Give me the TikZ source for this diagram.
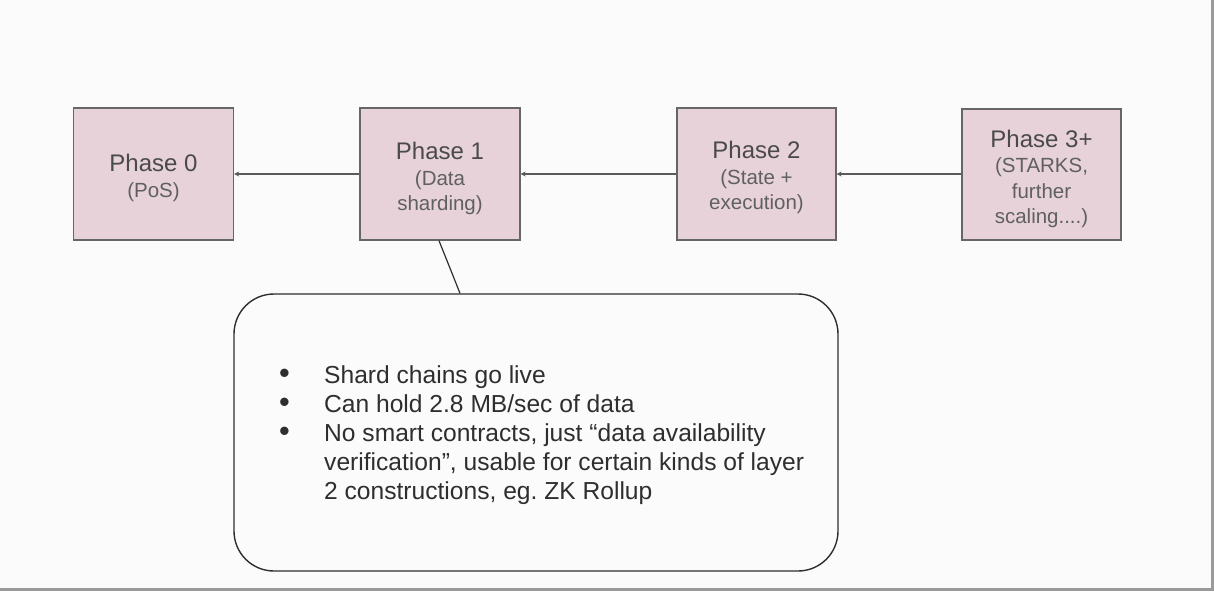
\documentclass[tikz,border=0pt]{standalone}
\usepackage{fontspec}
\setmainfont{Liberation Sans}
\usetikzlibrary{arrows.meta}
\frenchspacing
\definecolor{bgc}{HTML}{FBFBFB}
\definecolor{phasefill}{HTML}{E7D2DA}
\definecolor{phaseline}{HTML}{666666}
\definecolor{titlec}{HTML}{4A4A4A}
\definecolor{subc}{HTML}{606060}
\definecolor{arrowc}{HTML}{5A5A5A}
\definecolor{callc}{HTML}{2E2E2E}
\definecolor{framec}{HTML}{9A9A9A}
\tikzset{
  phasebox/.style={draw=phaseline, line width=1.3pt, fill=phasefill,
    minimum width=160pt, minimum height=132pt, inner sep=0pt},
  phasetext/.style={inner sep=0pt, align=center,
    text=subc, font=\fontsize{20.5}{25.5}\selectfont},
  flow/.style={draw=arrowc, line width=1.2pt, -{Stealth[length=5pt,width=5pt]}},
  callbox/.style={draw=callc, line width=1.4pt, rounded corners=40pt,
    minimum width=604pt, minimum height=277pt, inner sep=0pt},
  calltext/.style={text=callc, align=left, inner sep=0pt,
    font=\fontsize{24.6}{28.8}\selectfont}
}
\newcommand{\ttl}[1]{{\fontsize{24}{25.5}\selectfont\color{titlec}#1}}
\newcommand{\blt}{\makebox[44pt][l]{\hspace*{-1pt}\scalebox{1.25}{\textbullet}}}
\begin{document}
\begin{tikzpicture}[x=1pt,y=-1pt]
\useasboundingbox (0,0) rectangle (1214,591);
\fill[bgc] (0,0) rectangle (1214,591);
\draw[framec, line width=2.5pt] (1212.5,0) -- (1212.5,591);
\draw[framec, line width=2.5pt] (0,589.5) -- (1214,589.5);

\node[phasebox] (p0) at (153.5,174) {};
\node[phasebox] (p1) at (440,174) {};
\node[phasebox, minimum width=159pt] (p2) at (756.5,174) {};
\node[phasebox, minimum width=159pt, minimum height=131pt] (p3) at (1041.5,174.5) {};

\node[phasetext] (t0) at ([yshift=-4pt]p0.center) {\ttl{Phase 0}\\(PoS)};
\node[phasetext] (t1) at ([yshift=-4.5pt]p1.center) {\ttl{Phase 1}\\(Data\\sharding)};
\node[phasetext] (t2) at ([yshift=-3.5pt]p2.center) {\ttl{Phase 2}\\(State +\\execution)};
\node[phasetext] (t3) at ([yshift=-4.5pt]p3.center) {\ttl{Phase 3+}\\(STARKS,\\further\\scaling....)};

\draw[flow] (p1.west) -- (p0.east);
\draw[flow] (p2.west) -- (p1.east);
\draw[flow] (p3.west |- p2.east) -- (p2.east);

\node[callbox] (call) at (536,432.5) {};
\draw[draw=callc, line width=1.2pt] ([xshift=-1pt]p1.south) -- ([xshift=-76pt]call.north);

\node[calltext, anchor=base west] (bul) at (280,499) {%
\blt Shard chains go live\\
\blt Can hold 2.8 MB/sec of data\\
\blt No smart contracts, just “data availability\\
\hspace*{44pt}verification”, usable for certain kinds of layer\\
\hspace*{44pt}2 constructions, eg. ZK Rollup};
\end{tikzpicture}
\end{document}
